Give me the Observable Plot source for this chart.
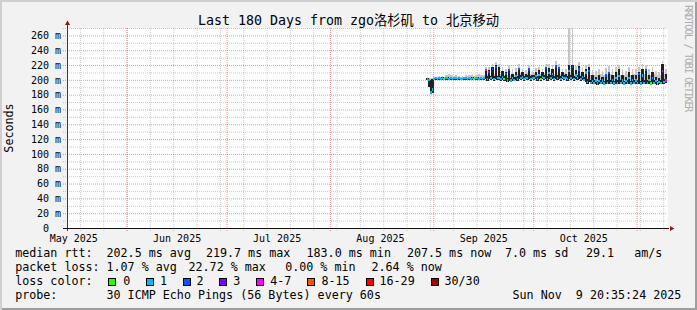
<!DOCTYPE html>
<html><head><meta charset="utf-8">
<script src="https://cdn.jsdelivr.net/npm/d3@7"></script>
<script src="https://cdn.jsdelivr.net/npm/@observablehq/plot@0.6"></script>
<style>
html,body{margin:0;padding:0;background:#fff;}
#chart{position:relative;width:697px;height:310px;background:#f2f2f2;
  box-shadow:inset 2px 2px 0 #cfcfcf, inset -2px -2px 0 #9e9e9e;
  font-family:"DejaVu Sans Mono","Noto Sans CJK SC",monospace;color:#000;overflow:hidden;}
#chart svg{position:absolute;left:0;top:0;}
.t{position:absolute;white-space:pre;line-height:1;}
.sw{position:absolute;width:8px;height:8px;box-sizing:border-box;border:1px solid #000;}
</style>
</head><body>
<div id="chart"></div>
<script>
// ---------------- data ----------------
const titleText = "Last 180 Days from zgo洛杉矶 to 北京移动";
const yLabel = "Seconds";
const watermark = "RRDTOOL / TOBI OETIKER";
const xStart = new Date("2025-05-14T03:00:00Z");
const xEnd = new Date("2025-11-10T03:00:00Z");
const yTicks = [0,20,40,60,80,100,120,140,160,180,200,220,240,260];
const monthLabelDates = ["2025-05-16","2025-06-16","2025-07-16","2025-08-16","2025-09-16","2025-10-16"];
const monthLabels = ["May 2025","Jun 2025","Jul 2025","Aug 2025","Sep 2025","Oct 2025"];

// 12-hour bins starting at binStart (values in ms)
const binStart = new Date("2025-08-30T00:00:00Z");
const binHours = 12;
const medianRtt = [
 201,200,183,187,201,202,201,202,201,202,
 201,202,202,201,202,201,202,202,201,202,
 201,201,202,202,201,202,201,202,201,202,
 202,201,202,201,202,213,201,211,202,215,
 201,217,202,203,201,204,201,208,199,213,
 199,203,200,205,201,215,202,204,201,203,
 202,214,201,202,202,205,201,207,201,204,
 202,216,201,209,202,208,201,218,202,216,
 201,204,202,203,201,212,202,217,201,206,
 202,214,201,204,200,210,197,212,196,198,
 196,199,195,198,196,199,195,206,196,209,
 196,200,195,203,196,205,196,199,195,198,
 196,203,195,200,196,199,196,208,195,206,
 196,213,196,200,195,203,196,198,195,197,
 196,212,197,199];
const smokeLow = [
 200,190,182,182,200,200,200,200,200,200,
 200,200,200,200,200,200,200,200,200,200,
 200,200,200,200,200,200,200,200,200,200,
 200,200,200,200,200,201,199,201,200,201,
 199,201,200,200,199,200,199,198,197,198,
 197,198,198,200,199,201,200,201,199,201,
 200,201,199,201,200,201,199,201,199,201,
 200,201,199,201,200,201,199,201,200,201,
 199,201,200,201,199,201,200,201,199,201,
 200,201,199,200,198,197,195,197,194,195,
 194,195,193,195,194,195,193,195,194,195,
 194,195,193,195,194,195,194,195,193,195,
 194,195,193,195,194,195,194,195,193,195,
 194,195,194,195,193,195,194,195,193,195,
 194,195,195,196];
const smokeHigh = [
 203,201,200,201,203,204,203,204,203,204,
 203,204,204,203,204,203,204,204,203,204,
 203,203,204,204,203,204,203,204,203,204,
 204,203,204,203,204,214,205,213,205,217,
 205,220,205,217,205,212,205,210,203,215,
 203,208,204,211,205,216,206,210,205,208,
 206,215,205,206,206,210,205,213,205,210,
 206,217,205,216,206,215,205,220,206,217,
 205,210,206,208,205,220,206,220,205,213,
 206,219,205,210,204,215,201,217,200,206,
 200,204,199,206,200,204,199,208,200,211,
 200,207,199,210,200,214,200,206,199,204,
 200,210,199,206,200,206,200,210,199,215,
 200,215,200,206,199,210,200,204,199,202,
 200,221,201,208];
const smokeMax = [
 204,203,202,203,204,204,204,205,204,205,
 204,207,206,208,206,207,205,206,204,205,
 204,205,204,206,205,207,206,208,205,207,
 206,208,206,207,207,218,208,217,207,221,
 208,224,207,222,208,217,207,215,206,220,
 206,214,207,216,208,221,209,215,208,213,
 209,220,208,212,209,216,208,218,208,215,
 209,222,208,221,209,220,208,225,209,222,
 208,215,209,214,208,272,209,270,208,219,
 209,224,208,216,207,220,205,222,206,213,
 207,212,206,214,208,212,206,216,207,219,
 208,215,207,218,208,220,207,214,206,212,
 208,218,207,214,208,214,207,218,206,221,
 208,220,207,214,206,218,208,212,206,210,
 207,226,208,215];
const lossIndex = [
 1,1,1,1,1,1,1,1,1,1,
 0,1,1,1,1,1,1,1,1,1,
 1,1,1,1,1,1,1,1,0,1,
 1,1,1,1,1,4,1,2,1,2,
 1,2,1,1,1,1,0,2,1,2,
 1,1,1,1,1,2,1,1,1,1,
 1,2,1,1,1,1,1,1,0,1,
 1,2,1,1,1,1,1,2,1,2,
 1,1,1,1,1,1,1,2,1,1,
 1,2,1,1,1,1,1,2,1,1,
 1,1,1,1,1,1,1,2,0,2,
 1,1,1,1,1,1,1,1,1,1,
 1,1,1,1,1,1,1,2,1,1,
 1,2,1,1,0,1,1,1,0,1,
 1,4,1,4];
const lossLabels = ["0","1","2","3","4-7","8-15","16-29","30/30"];
const lossColors = ["#26ff00","#00b8ff","#0059ff","#7e00ff","#ff00ff","#ff5500","#ff0000","#a00000"];

const medianStats = ["202.5 ms avg","219.7 ms max","183.0 ms min","207.5 ms now","7.0 ms sd","29.1","am/s"];
const lossStats = ["1.07 % avg","22.72 % max","0.00 % min","2.64 % now"];
const probeText = "30 ICMP Echo Pings (56 Bytes) every 60s";
const stampText = "Sun Nov  9 20:35:24 2025";

// ---------------- build ----------------
const bins = medianRtt.map((m, i) => ({
  t0: d3.utcHour.offset(binStart, binHours * i),
  t1: d3.utcHour.offset(binStart, binHours * (i + 1)),
  med: m, lo: smokeLow[i], hi: smokeHigh[i], gmax: smokeMax[i],
  color: lossColors[lossIndex[i]]
}));
const labelByTime = new Map(monthLabelDates.map((d, i) => [+new Date(d + "T00:00:00Z"), monthLabels[i]]));
const labelTicks = monthLabelDates.map(d => new Date(d + "T00:00:00Z"));
const weekLines = d3.utcSunday.range(xStart, xEnd);
const monthLines = d3.utcMonth.range(xStart, xEnd);
const minorY = d3.range(10, 271, 20);
const majorY = yTicks.filter(v => v > 0);

const gridMinor = {stroke: "#8c8c8c", strokeOpacity: 0.45, strokeDasharray: "1,1"};
const gridMajor = {stroke: "#e03030", strokeOpacity: 0.5, strokeDasharray: "1,1"};

const plot = Plot.plot({
  width: 697, height: 250,
  marginLeft: 67, marginRight: 30, marginTop: 28, marginBottom: 22,
  style: {background: "transparent", overflow: "visible", fontFamily: "'DejaVu Sans Mono', monospace", fontSize: "10px"},
  x: {type: "utc", domain: [xStart, xEnd]},
  y: {domain: [0, 270]},
  color: {type: "identity"},
  marks: [
    Plot.frame({fill: "white", stroke: "none"}),
    Plot.ruleX(weekLines, {...gridMinor, insetBottom: -3}),
    Plot.ruleY(minorY, {...gridMinor, insetLeft: -4}),
    Plot.ruleX(monthLines, {...gridMajor, insetBottom: -3}),
    Plot.ruleY(majorY, {...gridMajor, insetLeft: -4}),
    Plot.rect(bins, {x1: "t0", x2: "t1", y1: "lo", y2: "gmax", fill: "#c6c6c6", clip: true, shapeRendering: "crispEdges"}),
    Plot.rect(bins, {x1: "t0", x2: "t1", y1: "lo", y2: "hi", fill: "#222222", clip: true, insetLeft: -0.35, insetRight: -0.35, shapeRendering: "crispEdges"}),
    Plot.rect(bins, {x1: "t0", x2: "t1", y1: d => d.med - 1.5, y2: d => d.med + 1.5, fill: "color", clip: true, shapeRendering: "crispEdges"}),
    Plot.ruleX([xStart], {stroke: "#3a3a3a", insetTop: -4, insetBottom: -3}),
    Plot.ruleY([0], {stroke: "#111", insetLeft: -4, insetRight: -2}),
    Plot.dot([0], {frameAnchor: "top-left", symbol: "triangle", r: 1.9, fill: "#8b1a1a", stroke: "none", dy: -5}),
    Plot.dot([0], {frameAnchor: "bottom-right", symbol: "triangle", r: 1.9, fill: "#8b1a1a", stroke: "none", dx: 4, rotate: 90}),
    Plot.axisY({ticks: yTicks, tickSize: 0, tickPadding: 6.5, label: null,
      tickFormat: d => d === 0 ? "0\u00a0\u00a0" : d + " m"}),
    Plot.axisX({ticks: labelTicks, tickSize: 0, tickPadding: 6, label: null,
      tickFormat: d => labelByTime.get(+d)})
  ]
});
const chart = document.getElementById("chart");
chart.appendChild(plot);

function addText(txt, left, baseline, size, css) {
  const el = document.createElement("div");
  el.className = "t";
  el.textContent = txt;
  el.style.fontSize = size + "px";
  el.style.left = left + "px";
  el.style.top = (baseline - 0.846 * size) + "px";
  if (css) Object.assign(el.style, css);
  chart.appendChild(el);
  return el;
}
// title
const tEl = addText(titleText, 0, 25, 13.3);
tEl.style.width = "697px"; tEl.style.textAlign = "center";
// y label (rotated)
const yl = document.createElement("div");
yl.className = "t"; yl.textContent = yLabel;
Object.assign(yl.style, {fontSize: "11.7px", left: "10.3px", top: "127.5px", transform: "translate(-50%,-50%) rotate(-90deg)"});
chart.appendChild(yl);
// watermark
const wm = document.createElement("div");
wm.className = "t"; wm.textContent = watermark;
Object.assign(wm.style, {fontSize: "10px", letterSpacing: "-1.2px", color: "#adadad", left: "688px", top: "58px", transform: "translate(-50%,-50%) rotate(90deg)"});
chart.appendChild(wm);

// legend
const L = 11.7, off = 0.8;
const rowBase = [258, 272, 286, 300];
addText("median rtt:", 16 - off, rowBase[0], L);
[107.3, 206.7, 307.3, 407.7, 505.7, 586.7, 635].forEach((x, i) => addText(medianStats[i], x - off, rowBase[0], L));
addText("packet loss:", 16 - off, rowBase[1], L);
[107.3, 189.3, 286, 372.3].forEach((x, i) => addText(lossStats[i], x - off, rowBase[1], L));
addText("loss color:", 16 - off, rowBase[2], L);
const swX = [108.3,145.7,182.7,219.3,256.3,307.3,365.7,430.7];
const lbX = [124,160.7,197.3,234,271,322.3,380.3,445.3];
lossLabels.forEach((lab, i) => {
  const s = document.createElement("div");
  s.className = "sw";
  Object.assign(s.style, {left: swX[i] + "px", top: "278px", background: lossColors[i]});
  chart.appendChild(s);
  addText(lab, lbX[i] - off, rowBase[2], L);
});
addText("probe:", 16 - off, rowBase[3], L);
addText(probeText, 107.3 - off, rowBase[3], L);
addText(stampText, 513.3 - off, rowBase[3], L);
</script>
</body></html>
